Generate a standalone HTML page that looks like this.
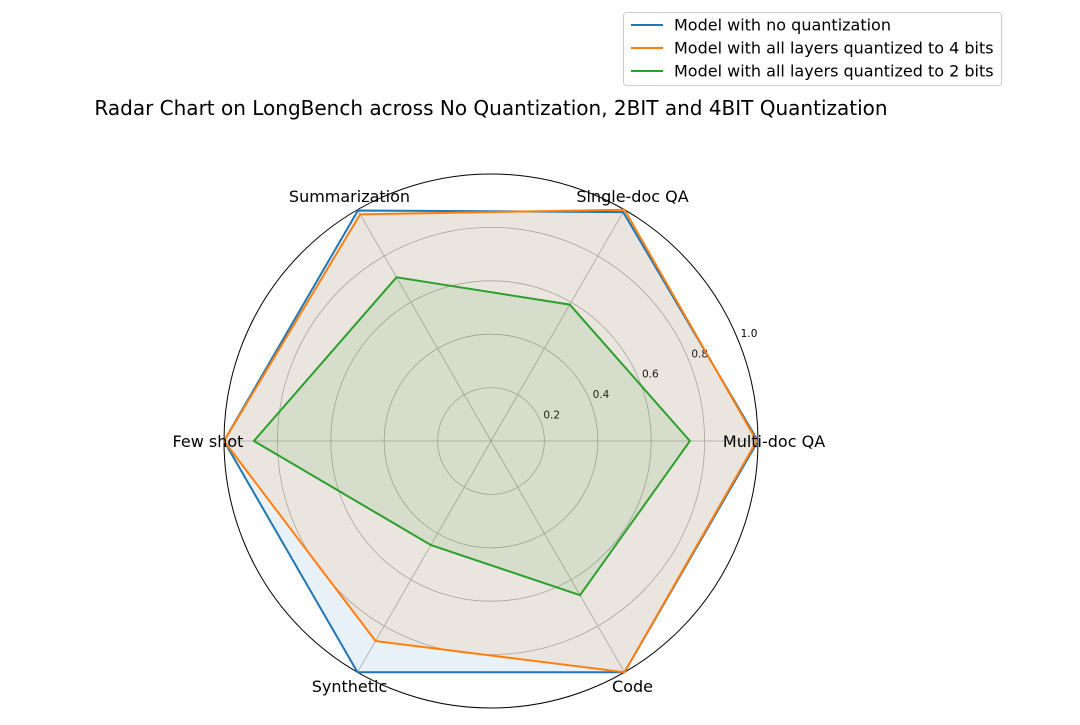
<!DOCTYPE html>
<html><head><meta charset="utf-8"><style>
body{margin:0;background:#fff;}
svg text{font-family:"DejaVu Sans","Liberation Sans",sans-serif;}
</style></head><body>
<svg id="chart" width="1080" height="720" viewBox="0 0 1080 720">
<text x="491" y="115" font-size="20" text-anchor="middle" fill="#000">Radar Chart on LongBench across No Quantization, 2BIT and 4BIT Quantization</text>
<g id="grid"></g><g id="series"></g><g id="labels"></g>
<g>
<rect x="623.5" y="12.5" width="378" height="73" rx="3" fill="#fff" stroke="#ccc"/>
<g><line x1="631" y1="25" x2="663" y2="25" stroke="#1f77b4" stroke-width="2"/><text x="674" y="30.5" font-size="16">Model with no quantization</text></g>
<g><line x1="631" y1="48" x2="663" y2="48" stroke="#ff7f0e" stroke-width="2"/><text x="674" y="53.5" font-size="16">Model with all layers quantized to 4 bits</text></g>
<g><line x1="631" y1="71" x2="663" y2="71" stroke="#2ca02c" stroke-width="2"/><text x="674" y="76.5" font-size="16">Model with all layers quantized to 2 bits</text></g>
</g>
</svg>
<script>
const categories=["Multi-doc QA","Single-doc QA","Summarization","Few shot","Synthetic","Code"];
const noQuant=[1.0,0.99,0.997,1.0,1.0,1.0];
const quant4=[0.995,1.0,0.98,1.0,0.865,1.0];
const quant2=[0.745,0.59,0.708,0.888,0.45,0.667];
const ticks=[0.2,0.4,0.6,0.8,1.0];
const cx=491,cy=441,R=267,ns="http://www.w3.org/2000/svg";
function ang(i){return i*2*Math.PI/categories.length;}
function pt(i,v){return [cx+R*v*Math.cos(ang(i)),cy-R*v*Math.sin(ang(i))];}
function mk(t,a,p){const e=document.createElementNS(ns,t);for(const k in a)e.setAttribute(k,a[k]);p.appendChild(e);return e;}
const grid=document.getElementById('grid');
ticks.forEach(t=>{
 const c=mk('circle',{cx:cx,cy:cy,r:R*t,fill:'none',stroke:t===1?'#000':'#b0b0b0','stroke-width':t===1?1:0.8},grid);
 
 
 const a=22.5*Math.PI/180;
 const tx=mk('text',{x:cx+R*t*Math.cos(a)+3,y:cy-R*t*Math.sin(a)-2,'font-size':10.5},grid);
 tx.textContent=t.toFixed(1);
 
 
});
categories.forEach((c,i)=>{
 const p=pt(i,1);
 const l=mk('line',{x1:cx,y1:cy,x2:p[0],y2:p[1],stroke:'#b0b0b0','stroke-width':0.8},grid);
 
 
 const q=pt(i,1.06);
 const tx=mk('text',{x:q[0],y:q[1]+6,'font-size':16,'text-anchor':'middle'},document.getElementById('labels'));
 tx.textContent=c;
 
 
});
const ser=document.getElementById('series');
[[noQuant,'#1f77b4','series-no-quant'],[quant4,'#ff7f0e','series-4bit'],[quant2,'#2ca02c','series-2bit']].forEach(([d,col,n])=>{
 const pts=d.map((v,i)=>pt(i,v).join(',')).join(' ');
 const f=mk('polygon',{points:pts,fill:col,'fill-opacity':0.1,stroke:'none'},ser);
 
 
});
[[noQuant,'#1f77b4','series-no-quant'],[quant4,'#ff7f0e','series-4bit'],[quant2,'#2ca02c','series-2bit']].forEach(([d,col,n])=>{
 const pts=d.map((v,i)=>pt(i,v).join(',')).join(' ');
 const l=mk('polygon',{points:pts,fill:'none',stroke:col,'stroke-width':2},ser);
 
 
});
</script>
</body></html>
